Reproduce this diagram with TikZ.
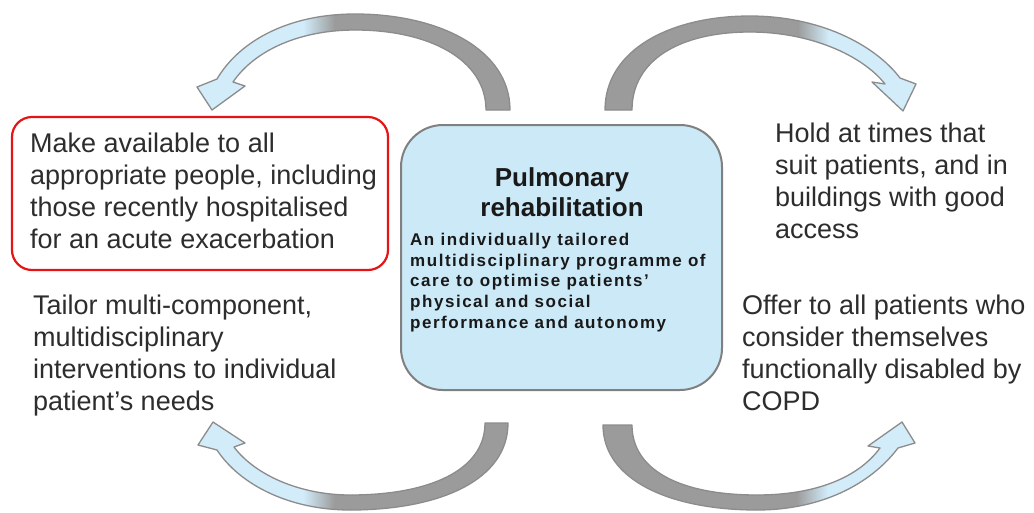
\documentclass[tikz,border=0pt]{standalone}
\usepackage{fontspec}
\setmainfont{Liberation Sans}
\definecolor{arrowgrey}{RGB}{155,155,155}
\definecolor{arrowblue}{RGB}{210,236,250}
\definecolor{arrowline}{RGB}{140,140,140}
\definecolor{boxblue}{RGB}{204,233,247}
\definecolor{boxline}{RGB}{128,128,128}
\definecolor{txt}{RGB}{45,45,45}
\definecolor{frame}{RGB}{230,20,20}
\pgfdeclarehorizontalshading{bluegrey}{100bp}{color(0bp)=(arrowblue); color(42bp)=(arrowblue); color(47bp)=(arrowgrey); color(100bp)=(arrowgrey)}
\pgfdeclarehorizontalshading{greyblue}{100bp}{color(0bp)=(arrowgrey); color(56bp)=(arrowgrey); color(61bp)=(arrowblue); color(100bp)=(arrowblue)}
\tikzset{
  bodytext/.style={font=\fontsize{27}{32}\selectfont, text=txt, align=left, anchor=north west, inner sep=0pt},
  curvearrow/.style={draw=arrowline, line width=1.3pt, line join=round},
}
\begin{document}
\begin{tikzpicture}[x=1pt,y=-1pt]
\useasboundingbox (0,0) rectangle (1034,512);
\fill[white] (0,0) rectangle (1034,512);

% curved arrows
\shade[curvearrow, shading=bluegrey]
  (510,110) .. controls (510,50) and (440,14) .. (355,14)
  .. controls (290,14) and (240,40) .. (217,79)
  -- (197,87) -- (212,110) -- (245,86) -- (233,82)
  .. controls (255,50) and (300,30) .. (355,30)
  .. controls (430,30) and (486,60) .. (486,110) -- cycle;
\shade[curvearrow, shading=greyblue]
  (605,110) .. controls (605,50) and (670,16) .. (750,16)
  .. controls (820,16) and (875,45) .. (900,78)
  -- (916,84) -- (903,111) -- (872,82) -- (885,84)
  .. controls (862,55) and (810,32) .. (750,32)
  .. controls (680,32) and (632,60) .. (632,110) -- cycle;
\shade[curvearrow, shading=bluegrey]
  (508,423) .. controls (508,480) and (440,510) .. (350,510)
  .. controls (290,510) and (240,485) .. (217,450)
  -- (198,445) -- (213,422) -- (245,443) -- (234,447)
  .. controls (255,475) and (300,495) .. (350,495)
  .. controls (430,495) and (485,470) .. (485,423) -- cycle;
\shade[curvearrow, shading=greyblue]
  (603,425) .. controls (603,480) and (670,510) .. (757,510)
  .. controls (820,510) and (870,485) .. (898,448)
  -- (915,443) -- (902,422) -- (868,446) -- (880,448)
  .. controls (858,478) and (815,495) .. (757,495)
  .. controls (680,495) and (632,470) .. (632,425) -- cycle;

% central box
\node[draw=boxline, fill=boxblue, line width=2pt, rounded corners=42pt,
      minimum width=321pt, minimum height=265pt, inner sep=0pt] (prbox) at (561.5,257.5) {};
\node[font=\bfseries\fontsize{26}{30}\selectfont, text=black!90, align=center, anchor=north, inner sep=0pt] (title) at (562,167) {Pulmonary\\rehabilitation};
\node[font=\bfseries\fontsize{17}{20.7}\selectfont\addfontfeature{LetterSpace=9}, text=black!90, align=left, anchor=north west, inner sep=0pt] (desc) at (410,233)
  {An individually tailored\\multidisciplinary programme of\\care to optimise patients’\\physical and social\\performance and autonomy};

% red frame and texts
\node[draw=frame, line width=2.2pt, rounded corners=20pt, minimum width=376pt, minimum height=153pt, inner sep=0pt] (availframe) at (200,193.5) {};
\node[bodytext] (avail) at (30,133) {Make available to all\\appropriate people, including\\those recently hospitalised\\for an acute exacerbation};
\node[bodytext] (tailor) at (33,295) {Tailor multi-component,\\multidisciplinary\\interventions to individual\\patient’s needs};
\node[bodytext] (hold) at (775,123) {Hold at times that\\suit patients, and in\\buildings with good\\access};
\node[bodytext] (offer) at (742,295) {Offer to all patients who\\consider themselves\\functionally disabled by\\COPD};
\end{tikzpicture}
\end{document}
